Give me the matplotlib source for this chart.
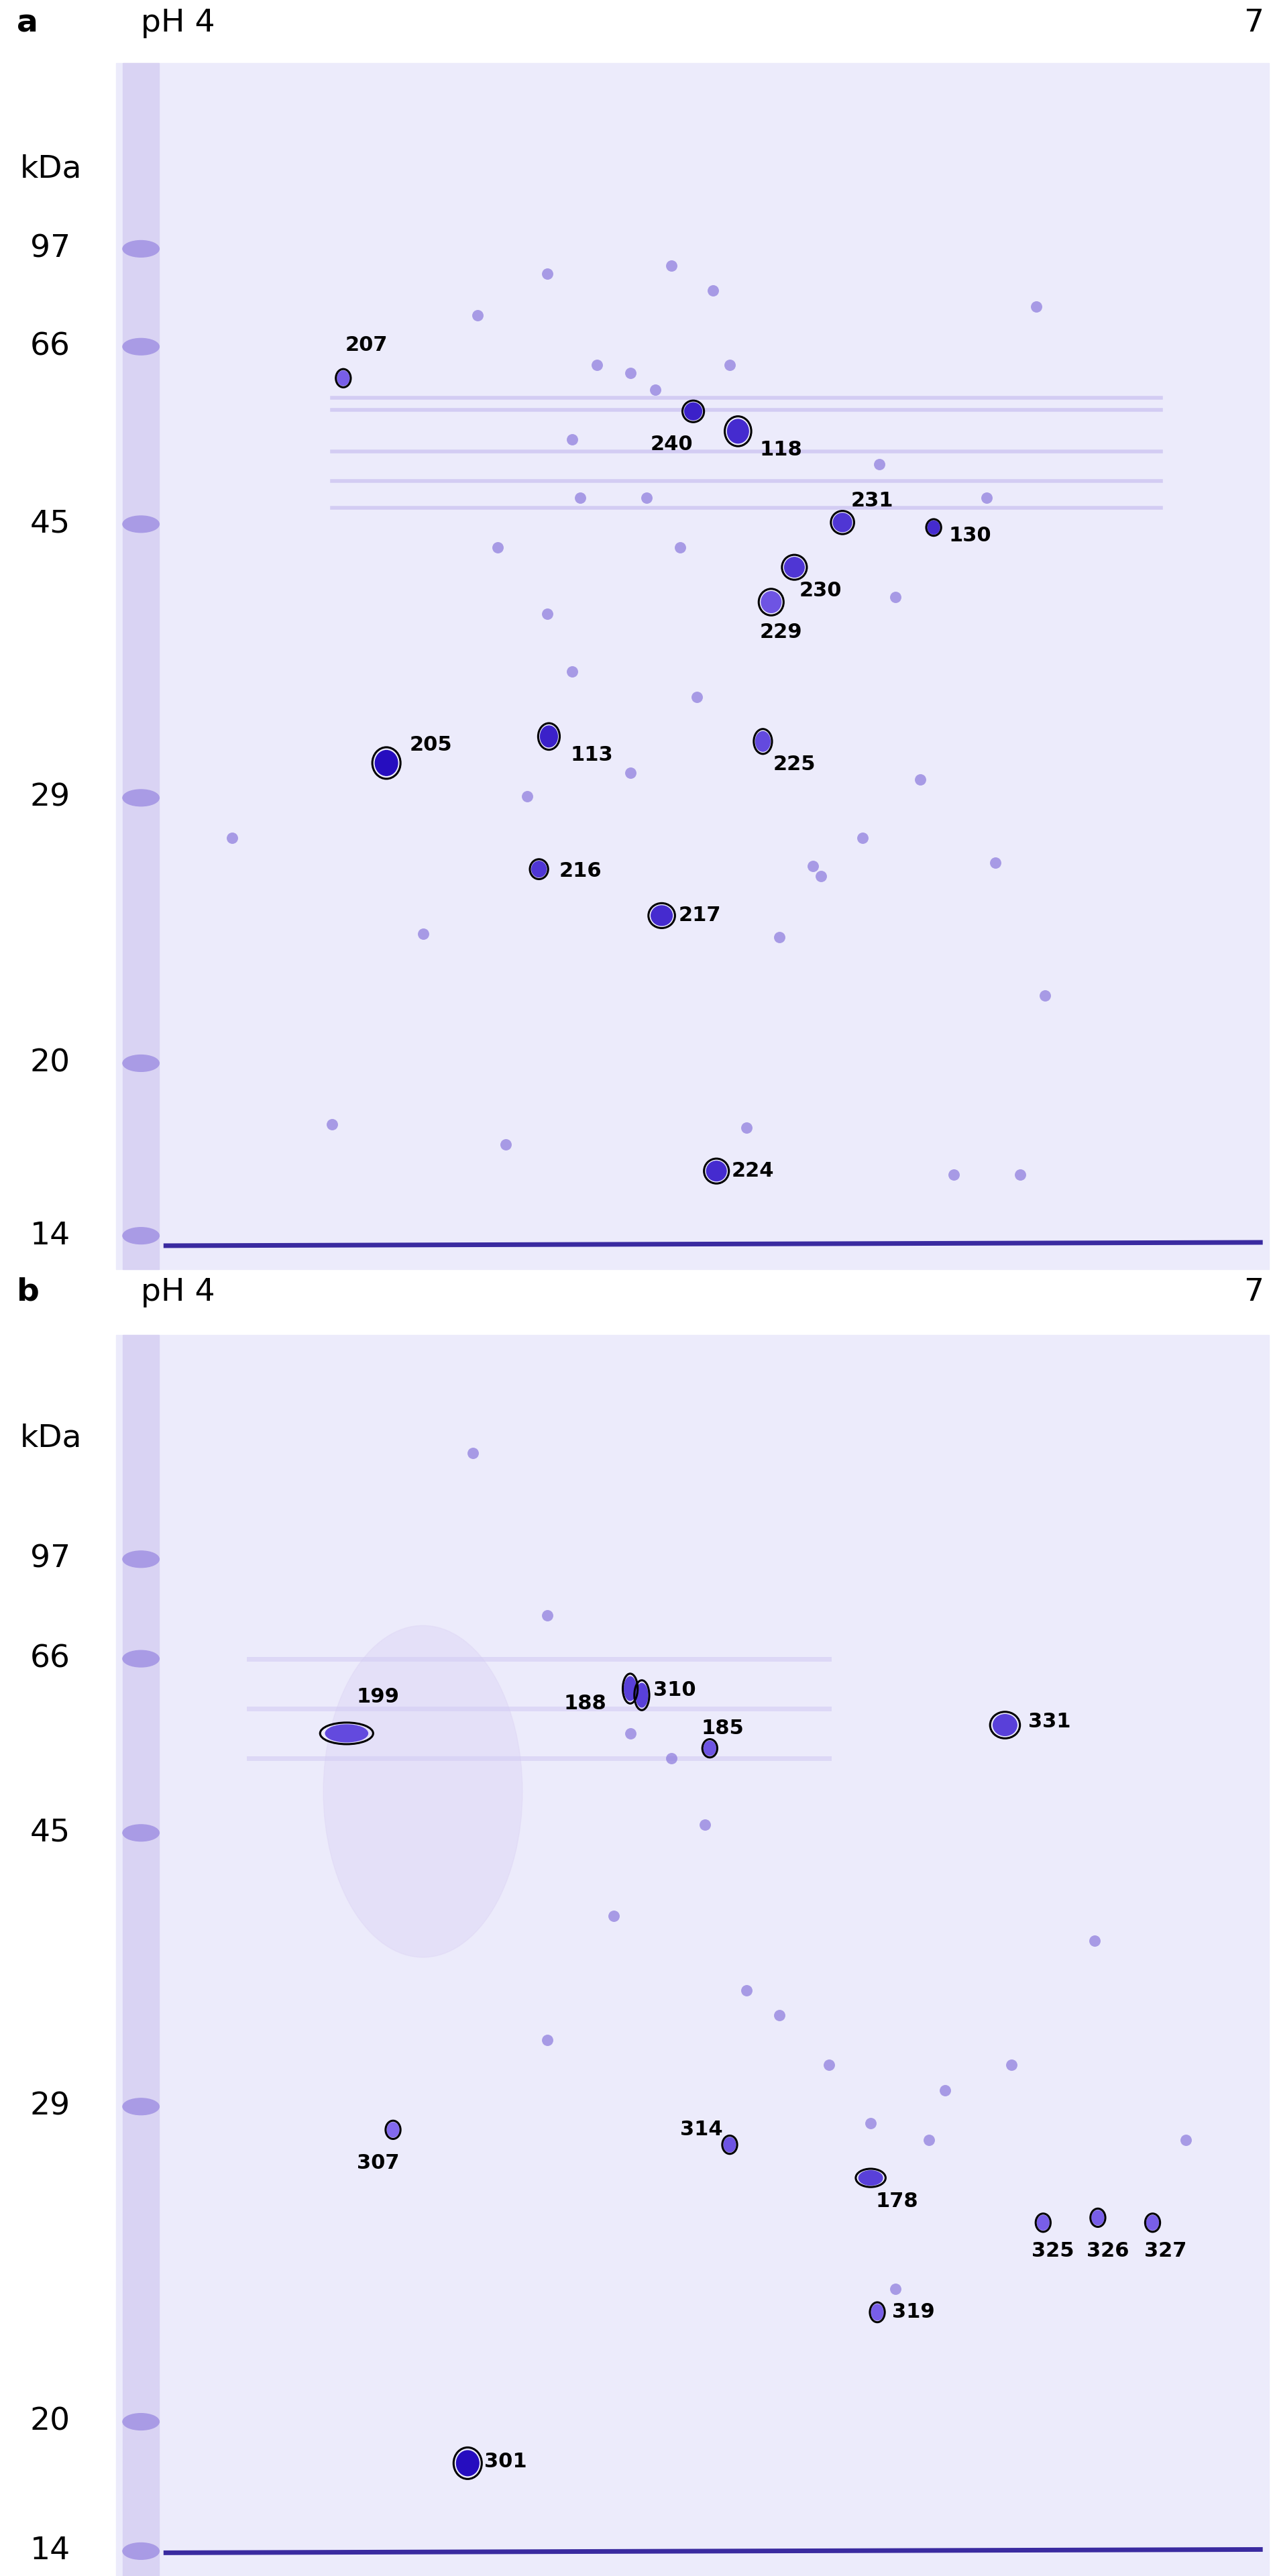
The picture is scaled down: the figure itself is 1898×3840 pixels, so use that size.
import matplotlib
matplotlib.use("Agg")
import matplotlib.pyplot as plt
from matplotlib.patches import Ellipse, Rectangle

# ---- data (display-pixel coordinates of the reference, 768x1553 frame) ----
mw_labels = ["97", "66", "45", "29", "20", "14"]
mw_y_a = [150, 209, 316, 481, 641, 745]
mw_y_b = [940, 1000, 1105, 1270, 1460, 1538]

a_ids = ["207", "240", "118", "231", "130", "230", "229", "205", "113", "225", "216", "217", "224"]
a_x = [207, 418, 445, 508, 563, 479, 465, 233, 331, 460, 325, 399, 432]
a_y = [228, 248, 260, 315, 318, 342, 363, 460, 444, 447, 524, 552, 706]
a_w = [9, 13, 16, 14, 9, 15, 15, 17, 13, 11, 11, 16, 15]
a_h = [11, 13, 18, 14, 10, 15, 16, 19, 16, 15, 12, 15, 15]
a_lx = [208, 392, 458, 513, 572, 482, 458, 247, 344, 466, 337, 409, 441]
a_ly = [208, 268, 271, 302, 323, 356, 381, 449, 455, 461, 525, 552, 706]
a_int = [0.2, 0.8, 0.7, 0.6, 0.7, 0.6, 0.3, 1.0, 0.8, 0.4, 0.6, 0.7, 0.7]

b_ids = ["199", "188", "310", "185", "331", "307", "314", "178", "325", "326", "327", "319", "301"]
b_x = [209, 380, 387, 428, 606, 237, 440, 525, 629, 662, 695, 529, 282]
b_y = [1045, 1018, 1022, 1054, 1040, 1284, 1293, 1313, 1340, 1337, 1340, 1394, 1485]
b_w = [32, 9, 9, 9, 18, 9, 9, 18, 9, 9, 9, 9, 17]
b_h = [13, 18, 18, 11, 16, 11, 11, 11, 11, 11, 11, 12, 19]
b_lx = [215, 340, 394, 423, 620, 215, 410, 528, 622, 655, 690, 538, 292]
b_ly = [1023, 1027, 1019, 1042, 1038, 1304, 1284, 1327, 1357, 1357, 1357, 1394, 1484]
b_int = [0.4, 0.5, 0.5, 0.3, 0.5, 0.1, 0.3, 0.5, 0.2, 0.2, 0.2, 0.2, 1.0]

# uncircled background spots (panel a then b)
bg_x = [288, 330, 405, 430, 360, 380, 395, 440, 625, 530, 540, 595, 330, 345, 410, 390, 490, 495, 520, 140,
        255, 200, 305, 575, 615, 630, 345, 318, 380, 300, 600, 555, 450, 470, 350, 420,
        285, 330, 380, 405, 370, 425, 570, 330, 500, 525, 560, 610, 660, 715, 450, 470, 540]
bg_y = [190, 165, 160, 175, 220, 225, 235, 220, 185, 280, 360, 300, 370, 405, 330, 300, 522, 528, 505, 505,
        563, 678, 690, 708, 708, 600, 265, 480, 466, 330, 520, 470, 680, 565, 300, 420,
        876, 974, 1045, 1060, 1155, 1100, 1260, 1230, 1245, 1280, 1290, 1245, 1170, 1290, 1200, 1215, 1380]

XMAX, YMAX = 768, 1553
fig = plt.figure(figsize=(18.99, 38.40), dpi=100)
ax = fig.add_axes([0, 0, 1, 1])
ax.set_xlim(0, XMAX)
ax.set_ylim(YMAX, 0)
ax.axis("off")
S = 2.473

lav = "#ecebfb"
for top, bot in [(38, 765), (805, 1553)]:
    ax.add_patch(Rectangle((70, top), 695, bot - top, color=lav, zorder=0))
    ax.add_patch(Rectangle((74, top), 22, bot - top, color="#d9d3f3", zorder=0.5))
    ax.plot([100, 760], [bot - 14, bot - 16], color="#3a2aa0", lw=5, zorder=1)
for y in [240, 247, 272, 290, 306]:
    ax.plot([200, 700], [y, y], color="#c9c0f0", lw=4, alpha=0.7, zorder=1)
for y in [1000, 1030, 1060]:
    ax.plot([150, 500], [y, y], color="#d3ccf3", lw=5, alpha=0.6, zorder=1)
ax.add_patch(Ellipse((255, 1080), 120, 200, color="#e0d9f6", alpha=0.6, zorder=0.8))
for y in mw_y_a + mw_y_b:
    ax.add_patch(Ellipse((85, y), 22, 10, color="#a99be5", zorder=1))

ax.scatter(bg_x, bg_y, s=60 * S, color="#8a78dc", alpha=0.7, zorder=2, lw=0)

def panel(ids, xs, ys, ws, hs, lxs, lys, ints):
    for i, x, y, w, h, lx, ly, it in zip(ids, xs, ys, ws, hs, lxs, lys, ints):
        c = (0.55 - 0.4 * it, 0.45 - 0.4 * it, 0.95 - 0.2 * it)
        ax.add_patch(Ellipse((x, y), w * 0.8, h * 0.8, color=c, zorder=3))
        ax.add_patch(Ellipse((x, y), w, h, fill=False, ec="black", lw=2.2, zorder=4))
        ax.text(lx, ly, i, fontsize=22, fontweight="bold", ha="left", va="center", zorder=5)

panel(a_ids, a_x, a_y, a_w, a_h, a_lx, a_ly, a_int)
panel(b_ids, b_x, b_y, b_w, b_h, b_lx, b_ly, b_int)

fs = 34
for yoff, let, mys in [(14, "a", mw_y_a), (779, "b", mw_y_b)]:
    ax.text(10, yoff, let, fontsize=fs, fontweight="bold", va="center")
    ax.text(85, yoff, "pH 4", fontsize=fs, va="center")
    ax.text(762, yoff, "7", fontsize=fs, va="center", ha="right")
    ax.text(12, yoff + 88, "kDa", fontsize=fs, va="center")
    for lab, y in zip(mw_labels, mys):
        ax.text(18, y, lab, fontsize=fs, va="center")

fig.savefig("out.png", dpi=100)
